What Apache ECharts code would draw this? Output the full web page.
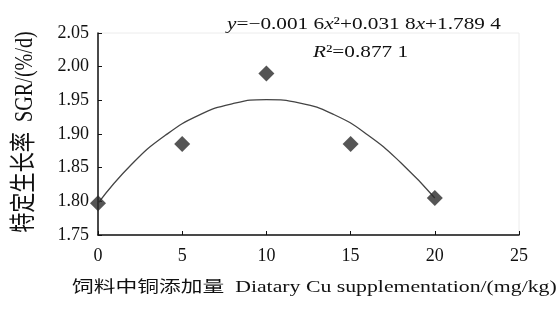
<!DOCTYPE html>
<html>
<head>
<meta charset="utf-8">
<script src="https://cdn.jsdelivr.net/npm/echarts@6/dist/echarts.min.js"></script>
<style>html,body{margin:0;padding:0;background:#fff}#c{width:560px;height:315px}</style>
</head>
<body>
<div id="c"></div>
<script>
// Data
const copperDose = [0, 5, 10, 15, 20];
const sgrValues = [1.797, 1.885, 1.990, 1.885, 1.805];
const fitDose = [0, 2, 4, 6, 8, 10, 12, 14, 16, 18, 20];
const fitSgr = [1.797, 1.855, 1.898, 1.928, 1.945, 1.951, 1.946, 1.929, 1.899, 1.857, 1.805];
const xTicks = { min: 0, max: 25, interval: 5 };
const yTicks = { min: 1.75, max: 2.05, interval: 0.05 };
const xTitle = '饲料中铜添加量  Diatary Cu supplementation/(mg/kg)';
const yTitle = '特定生长率  SGR/(%/d)';
const equationText = '{i|y}=−0.001 6{i|x}²+0.031 8{i|x}+1.789 4';
const r2Text = '{i|R}²=0.877 1';

const serif = '"Liberation Serif", "Noto Sans CJK SC", serif';
const chart = echarts.init(document.getElementById('c'), null, { renderer: 'canvas' });
chart.setOption({
  animation: false,
  backgroundColor: '#fff',
  grid: { left: 98, right: 41, top: 33, bottom: 80, show: true, borderColor: '#ececec', borderWidth: 1 },
  xAxis: {
    type: 'value', min: xTicks.min, max: xTicks.max, interval: xTicks.interval,
    axisLine: { lineStyle: { color: '#111', width: 1.5 } },
    axisTick: { inside: true, length: 4, lineStyle: { color: '#111' } },
    axisLabel: { color: '#111', fontFamily: serif, fontSize: 18, margin: 12 },
    splitLine: { show: false }
  },
  yAxis: {
    type: 'value', min: yTicks.min, max: yTicks.max, interval: yTicks.interval,
    axisLine: { show: true, lineStyle: { color: '#111', width: 1.5 } },
    axisTick: { show: true, inside: true, length: 4, lineStyle: { color: '#111' } },
    axisLabel: { color: '#111', fontFamily: serif, fontSize: 18, margin: 9, formatter: v => v.toFixed(2) },
    splitLine: { show: false }
  },
  series: [
    {
      type: 'line', data: fitDose.map((x, i) => [x, fitSgr[i]]), smooth: true, showSymbol: false,
      lineStyle: { color: '#444', width: 1.3 }, z: 2
    },
    {
      type: 'scatter', data: copperDose.map((x, i) => [x, sgrValues[i]]), symbol: 'diamond', symbolSize: 16,
      itemStyle: { color: '#2b2b2b' }, z: 3
    }
  ],
  graphic: [
    {
      type: 'text', x: 227, y: 25, scaleX: 1.25,
      style: {
        text: equationText, fontFamily: serif, fontSize: 17, fill: '#111',
        textAlign: 'left', textVerticalAlign: 'middle',
        rich: { i: { fontStyle: 'italic', fontFamily: serif, fontSize: 17, fill: '#111' } }
      }
    },
    {
      type: 'text', x: 313, y: 53, scaleX: 1.25,
      style: {
        text: r2Text, fontFamily: serif, fontSize: 17, fill: '#111',
        textAlign: 'left', textVerticalAlign: 'middle',
        rich: { i: { fontStyle: 'italic', fontFamily: serif, fontSize: 17, fill: '#111' } }
      }
    },
    {
      type: 'text', x: 72, y: 288, scaleX: 1.36,
      style: { text: xTitle, fontFamily: serif, fontSize: 16, fill: '#111', textAlign: 'left', textVerticalAlign: 'middle' }
    },
    {
      type: 'text', x: 25, y: 132, rotation: Math.PI / 2, scaleX: 1.12, scaleY: 1.45,
      style: { text: yTitle, fontFamily: serif, fontSize: 18, fill: '#111', textAlign: 'center', textVerticalAlign: 'middle' }
    }
  ]
});
</script>
</body>
</html>
